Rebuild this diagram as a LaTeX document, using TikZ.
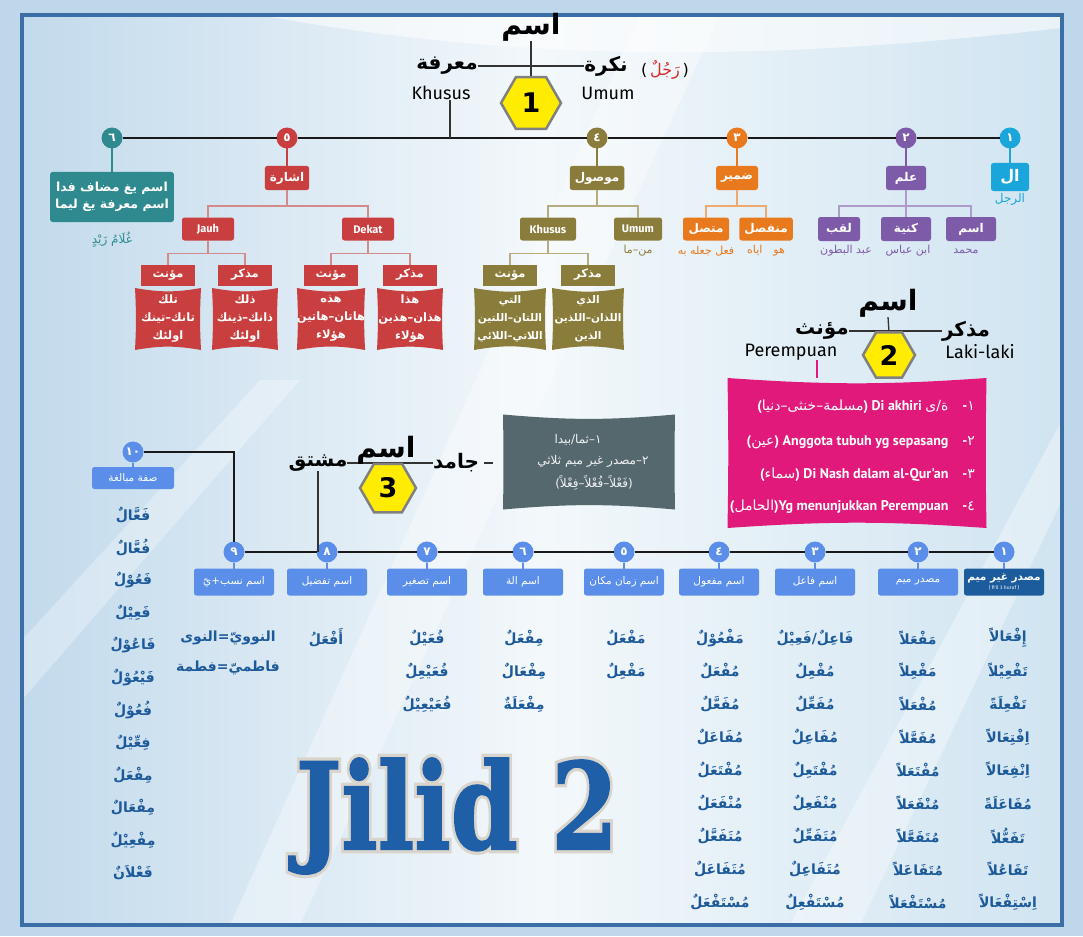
\documentclass[tikz,border=0pt]{standalone}
\usepackage{fontspec}
\usepackage{graphicx}
\usetikzlibrary{shapes.geometric,calc}
\setmainfont{DejaVu Sans}
\newfontfamily\arabicfont[Script=Arabic]{DejaVu Sans}
\newfontfamily\latf{Fira Sans}
\newfontfamily\condf{PT Sans}
\newfontfamily\slabf[FakeBold=1.5]{DejaVu Serif Bold}
\newfontfamily\slabo[FakeBold=7]{DejaVu Serif Bold}
\TeXXeTstate=1
\newcommand\AR[1]{{\arabicfont\beginR#1\endR}}
\newcommand\ARr[1]{{\arabicfont\mdseries\beginR#1\endR}}
\definecolor{bgout}{HTML}{BFD7EA}
\definecolor{bgA}{HTML}{C2DAEC}
\definecolor{bgB}{HTML}{F3F8FB}
\definecolor{bgC}{HTML}{D0E4F1}
\definecolor{frm}{HTML}{3B6EA6}
\definecolor{tealc}{HTML}{2E8A8E}
\definecolor{redc}{HTML}{C93E3E}
\definecolor{redl}{HTML}{D58A8A}
\definecolor{olvc}{HTML}{8A7D3B}
\definecolor{olvl}{HTML}{B5AD80}
\definecolor{orgc}{HTML}{E9791D}
\definecolor{orgl}{HTML}{EDAA70}
\definecolor{purc}{HTML}{7D5BA8}
\definecolor{purl}{HTML}{AE9BC9}
\definecolor{cyac}{HTML}{1AA6DB}
\definecolor{bluc}{HTML}{5A8EE8}
\definecolor{blud}{HTML}{1C5C9C}
\definecolor{lstc}{HTML}{1D5A9A}
\definecolor{pnkc}{HTML}{E0197B}
\definecolor{gryc}{HTML}{55686E}
\definecolor{hexy}{HTML}{FFEC00}
\definecolor{hexb}{HTML}{808080}
\definecolor{redt}{HTML}{D42A2A}
\definecolor{jilb}{HTML}{1E5FA8}
\definecolor{jilo}{HTML}{D9D4CC}
\pgfdeclarelayer{bg}
\pgfdeclarelayer{shapes}
\pgfsetlayers{bg,shapes,main}
\newcommand\pillow[4]{\begin{pgfonlayer}{shapes}\fill[#2] (#1.north west) to[bend right=#3] (#1.north east) to[bend right=#4] (#1.south east) to[bend right=#3] (#1.south west) to[bend right=#4] (#1.north west) -- cycle;\end{pgfonlayer}}
\begin{document}
\begin{tikzpicture}[x=1pt,y=1pt,
  every node/.style={inner sep=0pt,outer sep=0pt},
  mainline/.style={line width=2.8pt,black!90},
  tline/.style={line width=1.3pt,black!80},
  numc/.style={circle,minimum size=21pt,text=white,font=\arabicfont\bfseries\fontsize{12}{12}\selectfont},
  stem/.style={line width=1.8pt},
  br/.style={line width=1.6pt},
  abox/.style={rounded corners=2.5pt,text=white,minimum height=24pt,inner xsep=5pt,font=\arabicfont\bfseries\fontsize{12}{14}\selectfont},
  lbox/.style={rounded corners=2.5pt,text=white,minimum height=23pt,inner xsep=5pt,font=\latf\bfseries\fontsize{11}{13}\selectfont},
  hdr/.style={text=white,minimum height=21pt,minimum width=54pt,font=\arabicfont\bfseries\fontsize{11.5}{13}\selectfont},
  cont/.style={text=white,minimum width=66pt,minimum height=62pt,align=center,font=\arabicfont\bfseries\fontsize{11.5}{18}\selectfont},
  hexn/.style={regular polygon,regular polygon sides=6,minimum size=#1,fill=hexy,draw=hexb,line width=2.5pt,font=\bfseries\fontsize{27}{27}\selectfont},
  bigl/.style={font=\arabicfont\bfseries\fontsize{28}{28}\selectfont},
  midl/.style={font=\arabicfont\bfseries\fontsize{20}{20}\selectfont},
  latl/.style={font=\latf\fontsize{18}{18}\selectfont},
  smt/.style={font=\arabicfont\fontsize{11}{12}\selectfont},
  rbox/.style={rounded corners=2.5pt,fill=bluc,text=white,minimum width=80pt,minimum height=27pt,align=center,font=\arabicfont\fontsize{10.5}{12}\selectfont},
  lst/.style={text=lstc,font=\arabicfont\bfseries\fontsize{14}{16}\selectfont},
  pnk/.style={text=white,anchor=east,font=\condf\bfseries\fontsize{14}{16}\selectfont},
  gryt/.style={text=white!92!gryc,font=\arabicfont\fontsize{12}{14}\selectfont},
  jil/.style={font=\slabf\fontsize{120}{120}\selectfont},
  jilout/.style={font=\slabo\fontsize{120}{120}\selectfont}
]
\useasboundingbox (0,0) rectangle (1083,-936);
% ---------- background
\begin{pgfonlayer}{bg}
\fill[bgout] (0,0) rectangle (1083,-936);
\shade[left color=bgA,right color=bgC,middle color=bgB] (22,-15) rectangle (1062,-925);
\fill[white,opacity=0.55] (260,-15) .. controls (560,-70) and (820,-55) .. (1062,-28) -- (1062,-15) -- cycle;
\fill[white,opacity=0.35] (640,-15) -- (720,-15) -- (300,-925) -- (230,-925) -- cycle;
\fill[white,opacity=0.30] (22,-640) -- (260,-380) -- (300,-380) -- (22,-700) -- cycle;
\fill[white,opacity=0.35] (1062,-420) -- (1062,-500) -- (860,-925) -- (790,-925) -- cycle;
\draw[frm,line width=3.5pt] (22,-15) rectangle (1062,-925);
\end{pgfonlayer}
% ---------- section 1
\node[bigl] (ism1) at (531,-27) {\AR{اسم}};
\node[hexn=60pt] (hx1) at (531,-103) {1};
\node[midl] (mar) at (447,-66) {\AR{معرفة}};
\node[latl] (khs) at (441,-93) {Khusus};
\node[midl] (nak) at (606,-66) {\AR{نكرة}};
\node[latl] (umm) at (608,-93) {Umum};
\node[font=\fontsize{16}{16}\selectfont] (rjl) at (665,-70) {(\,\textcolor{redt}{\AR{رَجُلٌ}}\,)};
\begin{pgfonlayer}{shapes}
\draw[tline] (mar.east) -- (nak.west);
\draw[tline] (ism1.south) -- (hx1.north);
\end{pgfonlayer}
\node[numc,fill=tealc] (c6) at (112,-138) {٦};
\node[numc,fill=redc] (c5) at (287,-138) {٥};
\node[numc,fill=olvc] (c4) at (597,-138) {٤};
\node[numc,fill=orgc] (c3) at (737,-138) {٣};
\node[numc,fill=purc] (c2) at (906,-138) {٢};
\node[numc,fill=cyac] (c1) at (1010,-138) {١};
\draw[mainline] (c6) -- (c5);
\draw[mainline] (c5) -- (c4);
\draw[mainline] (c4) -- (c3);
\draw[mainline] (c3) -- (c2);
\draw[mainline] (c2) -- (c1);
\draw[tline] ([xshift=9pt]khs.south) -- ([xshift=9pt]khs.south |- c6.center);
% 6 teal
\node[abox,fill=tealc,minimum width=108pt,minimum height=50pt,align=center,font=\arabicfont\bfseries\fontsize{12.5}{17}\selectfont] (b6) at (112,-197) {\AR{اسم يغ مضاف فدا}\\\AR{اسم معرفة يغ ليما}};
\node[text=tealc,font=\arabicfont\fontsize{12}{12}\selectfont] (glm) at (112,-240) {\AR{غُلَامُ زَيْدٍ}};
\draw[stem,tealc] (c6) -- (b6);
% 5 red
\node[abox,fill=redc,minimum width=42pt] (b5) at (287,-178) {\AR{اشارة}};
\node[lbox,fill=redc,minimum width=52pt] (jauh) at (208,-229) {Jauh};
\node[lbox,fill=redc,minimum width=52pt] (dekat) at (368,-229) {Dekat};
\node[hdr,fill=redc] (jF) at (168,-275) {\AR{مؤنث}};
\node[hdr,fill=redc] (jM) at (245,-275) {\AR{مذكر}};
\node[hdr,fill=redc] (dF) at (331,-275) {\AR{مؤنث}};
\node[hdr,fill=redc] (dM) at (410,-275) {\AR{مذكر}};
\node[cont] (jFc) at (168,-319) {\AR{تلك}\\\AR{تانك–تينك}\\\AR{اولئك}};
\node[cont] (jMc) at (245,-319) {\AR{ذلك}\\\AR{ذانك–ذينك}\\\AR{اولئك}};
\node[cont] (dFc) at (331,-319) {\AR{هذه}\\\AR{هاتان–هاتين}\\\AR{هؤلاء}};
\node[cont] (dMc) at (410,-319) {\AR{هذا}\\\AR{هذان–هذين}\\\AR{هؤلاء}};
\pillow{jFc}{redc}{10}{3}
\pillow{jMc}{redc}{10}{3}
\pillow{dFc}{redc}{10}{3}
\pillow{dMc}{redc}{10}{3}
\draw[stem,redc] (c5) -- (b5);
\draw[br,redl] (b5.south) -- ++(0,-16) -| (jauh.north);
\draw[br,redl] (b5.south) ++(0,-16) -| (dekat.north);
\draw[br,redl] (jauh.south) -- ++(0,-13) -| (jF.north);
\draw[br,redl] (jauh.south) ++(0,-13) -| (jM.north);
\draw[br,redl] (dekat.south) -- ++(0,-13) -| (dF.north);
\draw[br,redl] (dekat.south) ++(0,-13) -| (dM.north);
% 4 olive
\node[abox,fill=olvc,minimum width=50pt] (b4) at (597,-178) {\AR{موصول}};
\node[lbox,fill=olvc,minimum width=48pt] (oum) at (638,-229) {Umum};
\node[lbox,fill=olvc,minimum width=56pt] (okh) at (548,-229) {Khusus};
\node[smt,text=olvc] (mnma) at (638,-251) {\AR{من–ما}};
\node[hdr,fill=olvc] (oF) at (510,-275) {\AR{مؤنث}};
\node[hdr,fill=olvc] (oM) at (588,-275) {\AR{مذكر}};
\node[cont,minimum width=72pt,font=\arabicfont\bfseries\fontsize{10.5}{18}\selectfont] (oFc) at (510,-319) {\AR{التي}\\\AR{اللتان–اللتين}\\\AR{اللاتي–اللائي}};
\node[cont,minimum width=72pt,font=\arabicfont\bfseries\fontsize{10.5}{18}\selectfont] (oMc) at (588,-319) {\AR{الذي}\\\AR{اللذان–اللذين}\\\AR{الذين}};
\pillow{oFc}{olvc}{10}{3}
\pillow{oMc}{olvc}{10}{3}
\draw[stem,olvc] (c4) -- (b4);
\draw[br,olvl] (b4.south) -- ++(0,-16) -| (oum.north);
\draw[br,olvl] (b4.south) ++(0,-16) -| (okh.north);
\draw[br,olvl] (okh.south) -- ++(0,-13) -| (oF.north);
\draw[br,olvl] (okh.south) ++(0,-13) -| (oM.north);
% 3 orange
\node[abox,fill=orgc,minimum width=40pt] (b3) at (737,-178) {\AR{ضمير}};
\node[abox,fill=orgc,minimum width=46pt,minimum height=23pt] (mtt) at (706,-229) {\AR{متصل}};
\node[abox,fill=orgc,minimum width=46pt,minimum height=23pt] (mnf) at (766,-229) {\AR{منفصل}};
\node[smt,text=orgc] (mtte) at (706,-251) {\AR{فعل جعله به}};
\node[smt,text=orgc] (mnfe) at (766,-251) {\AR{هو\quad اياه}};
\draw[stem,orgc] (c3) -- (b3);
\draw[br,orgl] (b3.south) -- ++(0,-16) -| (mtt.north);
\draw[br,orgl] (b3.south) ++(0,-16) -| (mnf.north);
% 2 purple
\node[abox,fill=purc,minimum width=40pt] (b2) at (906,-178) {\AR{علم}};
\node[abox,fill=purc,minimum width=42pt] (lqb) at (839,-229) {\AR{لقب}};
\node[abox,fill=purc,minimum width=50pt] (kny) at (906,-229) {\AR{كنية}};
\node[abox,fill=purc,minimum width=50pt] (ism) at (971,-229) {\AR{اسم}};
\node[smt,text=purc] (lqbe) at (846,-251) {\AR{عبد البطون}};
\node[smt,text=purc] (knye) at (908,-251) {\AR{ابن عباس}};
\node[smt,text=purc] (isme) at (966,-251) {\AR{محمد}};
\draw[stem,purc] (c2) -- (b2);
\draw[br,purl] (b2.south) -- (kny.north);
\draw[br,purl] (b2.south) ++(0,-16) -| (lqb.north);
\draw[br,purl] (b2.south) ++(0,-16) -| (ism.north);
% 1 cyan
\node[abox,fill=cyac,minimum width=38pt,minimum height=28pt,font=\arabicfont\bfseries\fontsize{16}{16}\selectfont] (b1) at (1010,-177) {\AR{ال}};
\node[text=cyac,font=\arabicfont\fontsize{12}{12}\selectfont] (b1e) at (1010,-199) {\AR{الرجل}};
\draw[stem,cyac] (c1) -- (b1);
% ---------- section 2
\node[bigl] (ism2) at (888,-303) {\AR{اسم}};
\node[hexn=52pt] (hx2) at (889,-355) {2};
\node[midl] (muan) at (822,-331) {\AR{مؤنث}};
\node[latl] (perm) at (791,-352) {Perempuan};
\node[midl] (mudh) at (966,-331) {\AR{مذكر}};
\node[latl] (laki) at (980,-352) {Laki-laki};
\begin{pgfonlayer}{shapes}
\draw[tline] (muan.east) -- (mudh.west);
\draw[tline] (ism2.south) -- (hx2.north);
\end{pgfonlayer}
\node[minimum width=259pt,minimum height=150pt] (pink) at (857,-453) {};
\pillow{pink}{pnkc}{4}{1}
\draw[line width=1.3pt,pnkc] ([xshift=26pt]perm.south) -- ([xshift=26pt]perm.south |- pink.north);
\node[pnk] (p1) at (975,-407) {(\ARr{مسلمة–خنثى–دنيا}) Di akhiri \ARr{ة/ى}\quad -{\arabicfont\mdseries ١}};
\node[pnk] (p2) at (975,-442) {(\ARr{عين}) Anggota tubuh yg sepasang\quad -{\arabicfont\mdseries ٢}};
\node[pnk] (p3) at (975,-475) {(\ARr{سماء}) Di Nash dalam al-Qur'an\quad -{\arabicfont\mdseries ٣}};
\node[pnk] (p4) at (975,-507) {(\ARr{الحامل})Yg menunjukkan Perempuan\quad -{\arabicfont\mdseries ٤}};
% ---------- section 3
\node[bigl] (ism3) at (386,-450) {\AR{اسم}};
\node[hexn=56pt] (hx3) at (388,-488) {3};
\node[midl] (msh) at (318,-463) {\AR{مشتق}};
\node[midl] (jmd) at (456,-463) {\AR{جامد}};
\begin{pgfonlayer}{shapes}
\draw[tline] (msh.east) -- (jmd.west);
\draw[tline] (ism3.south) -- (hx3.north);
\end{pgfonlayer}
\node[minimum width=172pt,minimum height=95pt] (gry) at (589,-462) {};
\pillow{gry}{gryc}{5}{1}
\node[gryt] (g1) at (578,-440) {\AR{١–ثما/بيدا}};
\node[gryt] (g2) at (593,-461) {\AR{٢–مصدر غير ميم ثلاثي}};
\node[gryt] (g3) at (594,-483) {\AR{(فَعْلاً–فُعْلاً–فِعْلاً)}};
\draw[tline] ([xshift=5pt]jmd.east) -- ([xshift=14pt]jmd.east);
\node[numc,fill=bluc] (r1) at (1004,-552) {١};
\node[numc,fill=bluc] (r2) at (918,-552) {٢};
\node[numc,fill=bluc] (r3) at (815,-552) {٣};
\node[numc,fill=bluc] (r4) at (719,-552) {٤};
\node[numc,fill=bluc] (r5) at (624,-552) {٥};
\node[numc,fill=bluc] (r6) at (523,-552) {٦};
\node[numc,fill=bluc] (r7) at (427,-552) {٧};
\node[numc,fill=bluc] (r8) at (327,-552) {٨};
\node[numc,fill=bluc] (r9) at (234,-552) {٩};
\node[numc,fill=bluc] (r10) at (133,-452) {١٠};
\draw[mainline] (r9) -- (r8);
\draw[mainline] (r8) -- (r7);
\draw[mainline] (r7) -- (r6);
\draw[mainline] (r6) -- (r5);
\draw[mainline] (r5) -- (r4);
\draw[mainline] (r4) -- (r3);
\draw[mainline] (r3) -- (r2);
\draw[mainline] (r2) -- (r1);
\draw[mainline] (r10) -| (r9);
\draw[tline] (msh.south) -- (msh.south |- r8.center);
\node[rbox,fill=blud,font=\arabicfont\bfseries\fontsize{10.5}{11}\selectfont] (n1) at (1004,-582) {\AR{مصدر غير ميم}\\[-2pt]{\latf\mdseries\fontsize{5}{5}\selectfont ( fi'il 3 huruf )}};
\node[rbox] (n2) at (918,-582) {\AR{مصدر ميم}};
\node[rbox] (n3) at (815,-582) {\AR{اسم فاعل}};
\node[rbox] (n4) at (719,-582) {\AR{اسم مفعول}};
\node[rbox] (n5) at (624,-582) {\AR{اسم زمان مكان}};
\node[rbox] (n6) at (523,-582) {\AR{اسم الة}};
\node[rbox] (n7) at (427,-582) {\AR{اسم تصغير}};
\node[rbox] (n8) at (327,-582) {\AR{اسم تفضيل}};
\node[rbox] (n9) at (234,-582) {\AR{اسم نسب+يّ}};
\node[rbox,minimum width=82pt,minimum height=22pt] (n10) at (133,-478) {\AR{صفة مبالغة}};
\foreach \k in {1,...,10} \draw[stem,bluc] (r\k) -- (n\k);
% ---------- lists
\foreach \w [count=\i] in {إِفْعَالاً,تَفْعِيْلاً,تَفْعِلَةً,اِفْتِعَالاً,اِنْفِعَالاً,مُفَاعَلَةً,تَفَعُّلاً,تَفَاعُلاً,اِسْتِفْعَالاً}
  \node[lst] (la\i) at (1008,{-638-33*(\i-1)}) {\AR{\w}};
\foreach \w [count=\i] in {مَفْعَلاً,مَفْعِلاً,مُفْعَلاً,مُفَعَّلاً,مُفْتَعَلاً,مُنْفَعَلاً,مُتَفَعَّلاً,مُتَفَاعَلاً,مُسْتَفْعَلاً}
  \node[lst] (lb\i) at (918,{-638-33*(\i-1)}) {\AR{\w}};
\node[lst] (lc1) at (815,-638) {\AR{فَاعِلٌ/فَعِيْلٌ}};
\foreach \w [count=\i from 2] in {مُفْعِلٌ,مُفَعِّلٌ,مُفَاعِلٌ,مُفْتَعِلٌ,مُنْفَعِلٌ,مُتَفَعِّلٌ,مُتَفَاعِلٌ,مُسْتَفْعِلٌ}
  \node[lst] (lc\i) at (815,{-638-33*(\i-1)}) {\AR{\w}};
\foreach \w [count=\i] in {مَفْعُوْلٌ,مُفْعَلٌ,مُفَعَّلٌ,مُفَاعَلٌ,مُفْتَعَلٌ,مُنْفَعَلٌ,مُتَفَعَّلٌ,مُتَفَاعَلٌ,مُسْتَفْعَلٌ}
  \node[lst] (ld\i) at (720,{-638-33*(\i-1)}) {\AR{\w}};
\foreach \w [count=\i] in {مَفْعَلٌ,مَفْعِلٌ}
  \node[lst] (le\i) at (626,{-638-33*(\i-1)}) {\AR{\w}};
\foreach \w [count=\i] in {مِفْعَلٌ,مِفْعَالٌ,مِفْعَلَةٌ}
  \node[lst] (lf\i) at (524,{-638-33*(\i-1)}) {\AR{\w}};
\foreach \w [count=\i] in {فُعَيْلٌ,فُعَيْعِلٌ,فُعَيْعِيْلٌ}
  \node[lst] (lg\i) at (427,{-638-33*(\i-1)}) {\AR{\w}};
\node[lst] (lh1) at (326,-638) {\AR{أَفْعَلُ}};
\node[lst] (li1) at (228,-638) {\AR{النوويّ=النوى}};
\node[lst] (li2) at (228,-668) {\AR{فاطميّ=فطمة}};
\foreach \w [count=\i] in {فَعَّالٌ,فُعَّالٌ,فَعُوْلٌ,فَعِيْلٌ,فَاعُوْلٌ,فَيْعُوْلٌ,فُعُوْلٌ,فِعِّيْلٌ,مِفْعَلٌ,مِفْعَالٌ,مِفْعِيْلٌ,فَعْلاَنٌ}
  \node[lst] (lj\i) at (133,{-515-32.5*(\i-1)}) {\AR{\w}};
% ---------- Jilid 2
\node[jilout,text=jilo] (jo) at (457,-816) {\scalebox{0.8}[1]{Jilid 2}};
\node[jil,text=jilb] (jilid) at (457,-816) {\scalebox{0.8}[1]{Jilid 2}};
\end{tikzpicture}
\end{document}
